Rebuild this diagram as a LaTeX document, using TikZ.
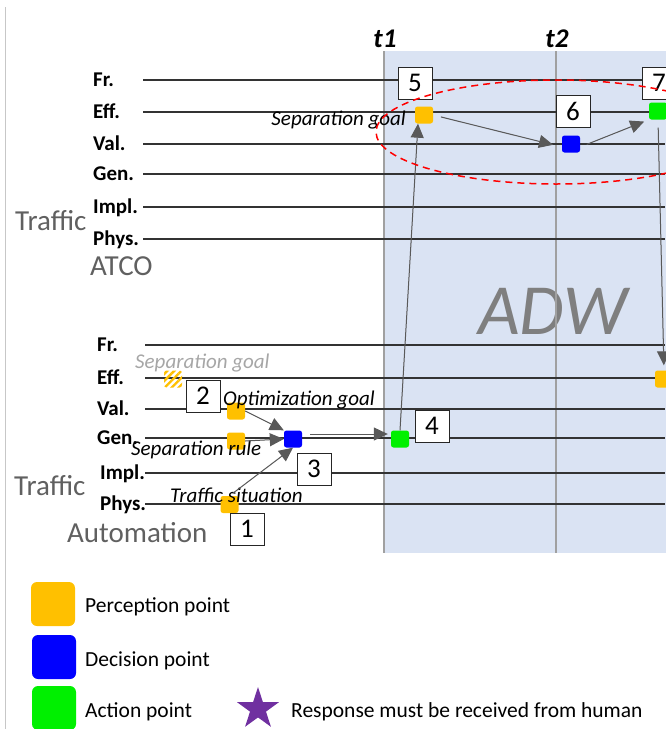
\documentclass[tikz,border=0pt]{standalone}
\usepackage{fontspec}
\setmainfont{Carlito}
\usetikzlibrary{arrows.meta,positioning,shapes.geometric,patterns.meta}
\definecolor{adwBlue}{HTML}{DAE3F3}
\definecolor{ptOrange}{HTML}{FFC000}
\definecolor{ptBlue}{HTML}{0000FF}
\definecolor{ptGreen}{HTML}{00F000}
\definecolor{humanPurple}{HTML}{7030A0}
\definecolor{arrowGray}{HTML}{595959}
\definecolor{titleGray}{HTML}{606060}
\definecolor{adwGray}{HTML}{7F7F7F}
\definecolor{ghostGray}{HTML}{A6A6A6}
\definecolor{tickGray}{HTML}{A0A0A0}

\begin{document}
\begin{tikzpicture}[x=1pt,y=-1pt,>=Latex]
  \tikzstyle{lvllabel}=[anchor=base west,inner sep=0pt,font=\fontsize{21}{24}\selectfont\bfseries]
  \tikzstyle{lvlline}=[draw=black!80,line width=1.2pt]
  \tikzstyle{pointsq}=[rounded corners=2.5pt,minimum width=18pt,minimum height=17pt,inner sep=0pt]
  \tikzstyle{numbox}=[draw=black!85,fill=white,line width=0.8pt,minimum width=34pt,minimum height=32pt,inner sep=0pt,font=\fontsize{27}{30}\selectfont]
  \tikzstyle{noteit}=[anchor=base west,inner sep=0pt,font=\fontsize{21}{24}\selectfont\itshape]
  \tikzstyle{grouptitle}=[anchor=base west,inner sep=0pt,text=titleGray,font=\fontsize{29}{32}\selectfont]
  \tikzstyle{flow}=[-{Triangle[length=14pt,width=13pt]},draw=arrowGray,fill=arrowGray,line width=1pt]
  \tikzstyle{legendsq}=[rounded corners=6pt,minimum size=44pt,inner sep=0pt]
  \tikzstyle{legendtext}=[anchor=base west,inner sep=0pt,font=\fontsize{21.5}{24}\selectfont]

  \useasboundingbox (0,0) rectangle (665,729);
  \draw[draw=black!22,line width=1pt] (5,7) -- (5,729);
  % ADW window
  \fill[adwBlue] (384,51) rectangle (680,553);
  \node[anchor=base,inner sep=0pt,text=adwGray,font=\fontsize{72}{80}\selectfont\itshape] (adw) at (553,334) {ADW};
  \foreach \x/\t in {384/t1,556/t2}{
    \draw[draw=tickGray,line width=1.2pt] (\x,51) -- (\x,553);
    \node[anchor=base,inner sep=0pt,font=\fontsize{27}{30}\selectfont\bfseries\itshape] (time\t) at (\x+1,47) {\t};
  }

  % ATCO levels
  \foreach \y/\l [count=\i] in {80/Fr.,112/Eff.,144/Val.,174/Gen.,207/Impl.,239/Phys.}{
    \draw[lvlline] (143,\y) -- (665,\y);
    \node[lvllabel] (atcolvl\i) at (93,\y+6) {\l};
  }
  \node[grouptitle] (atcotraffic) at (15,230) {Traffic};
  \node[grouptitle] (atconame) at (90,275) {ATCO};

  % automation levels
  \foreach \x/\y/\l [count=\i] in {97/345/Fr.,97/378/Eff.,97/409/Val.,97/438/Gen.,100/473/Impl.,100/504/Phys.}{
    \draw[lvlline] (145,\y) -- (665,\y);
    \node[lvllabel] (autolvl\i) at (\x,\y+6) {\l};
  }
  \node[grouptitle] (autotraffic) at (14,495) {Traffic};
  \node[grouptitle] (autoname) at (67,542) {Automation};

  % points
  \node[pointsq,fill=ptOrange] (sepgoal) at (424,115) {};
  \node[pointsq,fill=ptBlue] (atcodec) at (571,144) {};
  \node[pointsq,fill=ptGreen] (atcoact) at (658,111) {};
  \node[pointsq,pattern={Lines[angle=45,distance=5pt,line width=2.4pt]},pattern color=ptOrange] (oldgoal) at (173,379) {};
  \node[pointsq,fill=ptOrange] (optgoal) at (236,411) {};
  \node[pointsq,fill=ptOrange] (seprule) at (236,441) {};
  \node[pointsq,fill=ptBlue] (autodec) at (293,439) {};
  \node[pointsq,fill=ptGreen] (autoact) at (400,439) {};
  \node[pointsq,fill=ptOrange] (trafsit) at (229.5,504.5) {};
  \node[pointsq,fill=ptOrange] (newgoal) at (664,379) {};

  % step numbers
  \node[numbox] (num1) at (247,529) {1};
  \node[numbox] (num2) at (203,396) {2};
  \node[numbox] (num3) at (314,469) {3};
  \node[numbox] (num4) at (432,426) {4};
  \node[numbox] (num5) at (415,83) {5};
  \node[numbox] (num6) at (573,111) {6};
  \node[numbox] (num7) at (659,83) {7};

  \node[noteit,anchor=base east] (sepgoaltxt) at (406,125) {Separation goal};
  \node[noteit,text=ghostGray] (oldgoaltxt) at (135,368) {Separation goal};
  \node[noteit] (optgoaltxt) at (223,405) {Optimization goal};
  \node[noteit] (sepruletxt) at (131,455) {Separation rule};
  \node[noteit] (trafsittxt) at (170,502) {Traffic situation};

  \draw[flow] (optgoal.east) -- (autodec.north west);
  \draw[flow] (seprule.east) -- (autodec.west);
  \draw[flow,shorten <=4pt] (trafsit.north) -- (autodec.south);
  \draw[flow,shorten <=8pt,shorten >=3pt] ([yshift=5pt]autodec.east) -- ([yshift=5pt]autoact.west);
  \draw[flow] (autoact.north) -- ([xshift=-6pt]sepgoal.south);
  \draw[flow,shorten <=8pt,shorten >=9pt] (sepgoal.east) -- ([yshift=-3pt]atcodec.west);
  \draw[flow,shorten <=7pt,shorten >=5pt] ([yshift=-3pt]atcodec.east) -- (atcoact.south west);
  \draw[flow,shorten <=8pt,shorten >=5pt] (atcoact.south) -- (newgoal.north);

  \draw[red,line width=1.5pt,dash pattern=on 7pt off 5pt] (556,132) ellipse [x radius=180,y radius=52];

  % legend
  \node[legendsq,fill=ptOrange] (legperc) at (53,604) {};
  \node[legendtext] (legperctxt) at (85,612) {Perception point};
  \node[legendsq,fill=ptBlue] (legdec) at (54,657) {};
  \node[legendtext] (legdectxt) at (85,666) {Decision point};
  \node[legendsq,fill=ptGreen] (legact) at (54,708) {};
  \node[legendtext] (legacttxt) at (85,717) {Action point};
  \node[star,star points=5,star point ratio=2.618,minimum size=44pt,inner sep=0pt,fill=humanPurple] (legstar) at (258,709) {};
  \node[legendtext] (legstartxt) at (291,717) {Response must be received from human};
\end{tikzpicture}
\end{document}
